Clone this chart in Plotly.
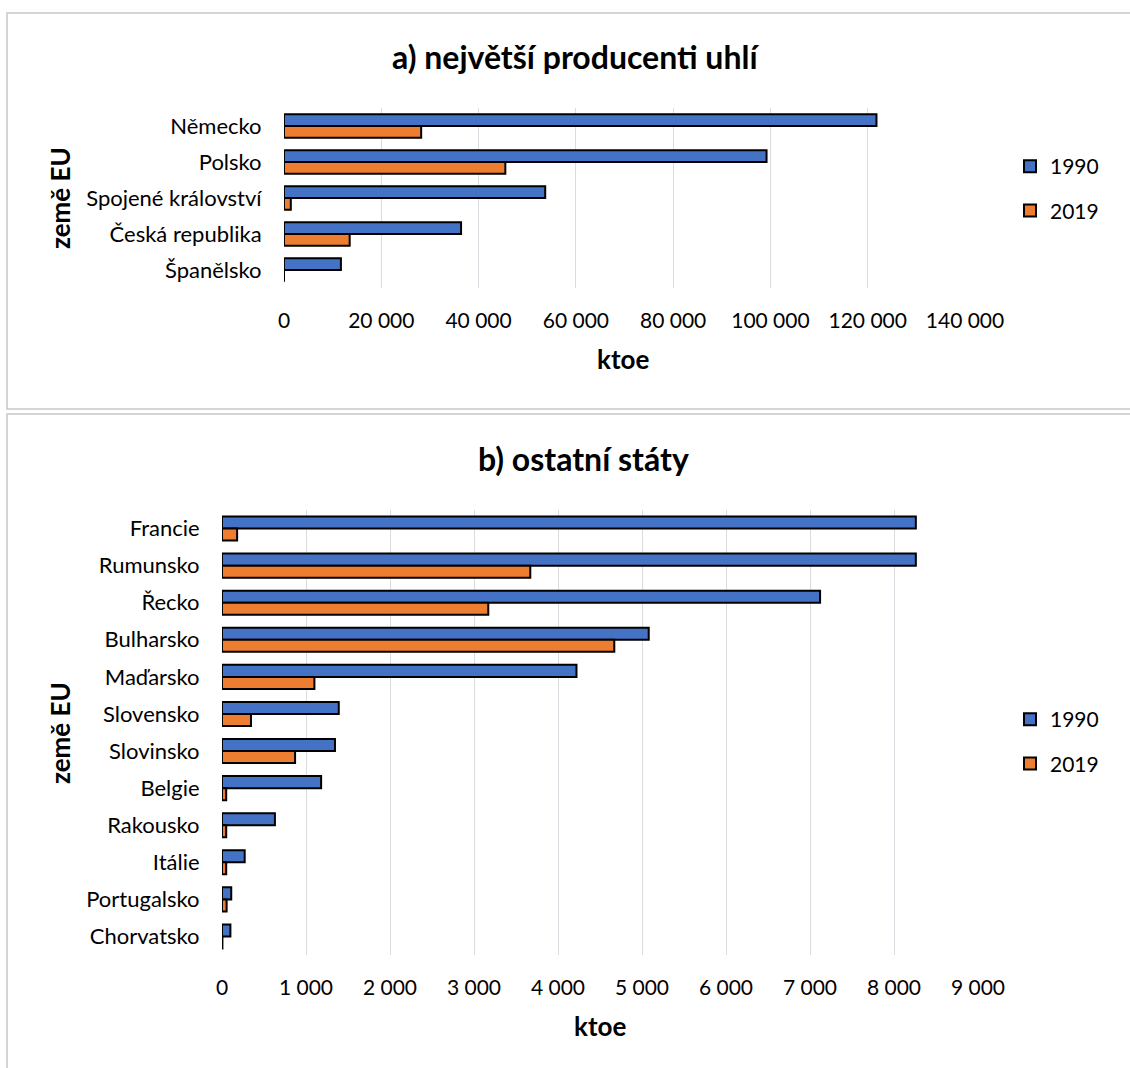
import plotly.graph_objects as go

# ---- data (ktoe) ----
top_countries = ["Německo", "Polsko", "Spojené království", "Česká republika", "Španělsko"]
top_1990 = [121800, 99200, 53700, 36400, 11700]
top_2019 = [28200, 45500, 1400, 13500, 0]

other_countries = ["Francie", "Rumunsko", "Řecko", "Bulharsko", "Maďarsko", "Slovensko",
                   "Slovinsko", "Belgie", "Rakousko", "Itálie", "Portugalsko", "Chorvatsko"]
other_1990 = [8260, 8260, 7120, 5080, 4220, 1390, 1345, 1180, 630, 270, 110, 100]
other_2019 = [180, 3670, 3170, 4670, 1100, 345, 870, 50, 50, 50, 55, 5]

years = ["1990", "2019"]
colors = ["#4472C4", "#ED7D31"]

W, H = 1130, 1068
FONT = "Lato, 'Open Sans', sans-serif"


def px_x(p):
    return p / W


def px_y(p):
    return 1 - p / H


fig = go.Figure()

for i, (vals, yr) in enumerate(zip([top_1990, top_2019], years)):
    fig.add_trace(go.Bar(
        y=top_countries, x=vals, name=yr, orientation="h",
        marker=dict(color=colors[i], line=dict(color="black", width=2)),
        xaxis="x", yaxis="y", legend="legend", legendgroup="a" + yr,
    ))

for i, (vals, yr) in enumerate(zip([other_1990, other_2019], years)):
    fig.add_trace(go.Bar(
        y=other_countries, x=vals, name=yr, orientation="h",
        marker=dict(color=colors[i], line=dict(color="black", width=2)),
        xaxis="x2", yaxis="y2", legend="legend2", legendgroup="b" + yr,
    ))

xcommon = dict(showgrid=True, gridcolor="#D9DCE1", gridwidth=1.2, zeroline=False,
               showline=False, ticks="outside", ticklen=14, tickcolor="rgba(0,0,0,0)",
               tickformat=",d", automargin=False,
               tickfont=dict(size=21, color="black", family=FONT))
ycommon = dict(showgrid=False, zeroline=False, showline=False, autorange="reversed",
               ticks="outside", ticklen=17, tickcolor="rgba(0,0,0,0)", automargin=False,
               tickfont=dict(size=22, color="black", family=FONT))
legcommon = dict(xanchor="left", yanchor="top", font=dict(size=21, family=FONT),
                 tracegroupgap=14, itemwidth=30, bgcolor="rgba(0,0,0,0)",
                 traceorder="grouped")

fig.update_layout(
    width=W, height=H,
    margin=dict(l=0, r=0, t=0, b=0),
    paper_bgcolor="white", plot_bgcolor="white",
    separators=", ",
    barmode="group", bargap=0.35, bargroupgap=0.0,
    font=dict(family=FONT, color="black"),
    xaxis=dict(domain=[px_x(284), px_x(965)], range=[0, 140000], dtick=20000,
               anchor="y", **xcommon),
    yaxis=dict(domain=[px_y(288), px_y(108)], anchor="x", **ycommon),
    xaxis2=dict(domain=[px_x(222), px_x(978)], range=[0, 9000], dtick=1000,
                anchor="y2", **xcommon),
    yaxis2=dict(domain=[px_y(955), px_y(510)], anchor="x2", **ycommon),
    legend=dict(x=px_x(1010), y=px_y(146), **legcommon),
    legend2=dict(x=px_x(1010), y=px_y(699), **legcommon),
    showlegend=True,
)

# panel frames
fig.add_shape(type="rect", xref="paper", yref="paper",
              x0=px_x(7), x1=px_x(1140), y0=px_y(409), y1=px_y(13),
              line=dict(color="#C8C8C8", width=1.5), fillcolor="rgba(0,0,0,0)", layer="below")
fig.add_shape(type="rect", xref="paper", yref="paper",
              x0=px_x(7), x1=px_x(1140), y0=px_y(1090), y1=px_y(414),
              line=dict(color="#C8C8C8", width=1.5), fillcolor="rgba(0,0,0,0)", layer="below")

# titles and axis titles
texts = [
    ("a) největší producenti uhlí", 575, 57, 32, 0),
    ("b) ostatní státy", 583, 458, 32, 0),
    ("ktoe", 623, 359, 26, 0),
    ("ktoe", 600, 1026, 26, 0),
    ("země EU", 60, 198, 26, -90),
    ("země EU", 60, 733, 26, -90),
]
for t, x, y, s, ang in texts:
    fig.add_annotation(text=f"<b>{t}</b>", x=px_x(x), y=px_y(y), xref="paper", yref="paper",
                       showarrow=False, xanchor="center", yanchor="middle", textangle=ang,
                       font=dict(size=s, family=FONT, color="black"))

fig.write_html("out.html")
